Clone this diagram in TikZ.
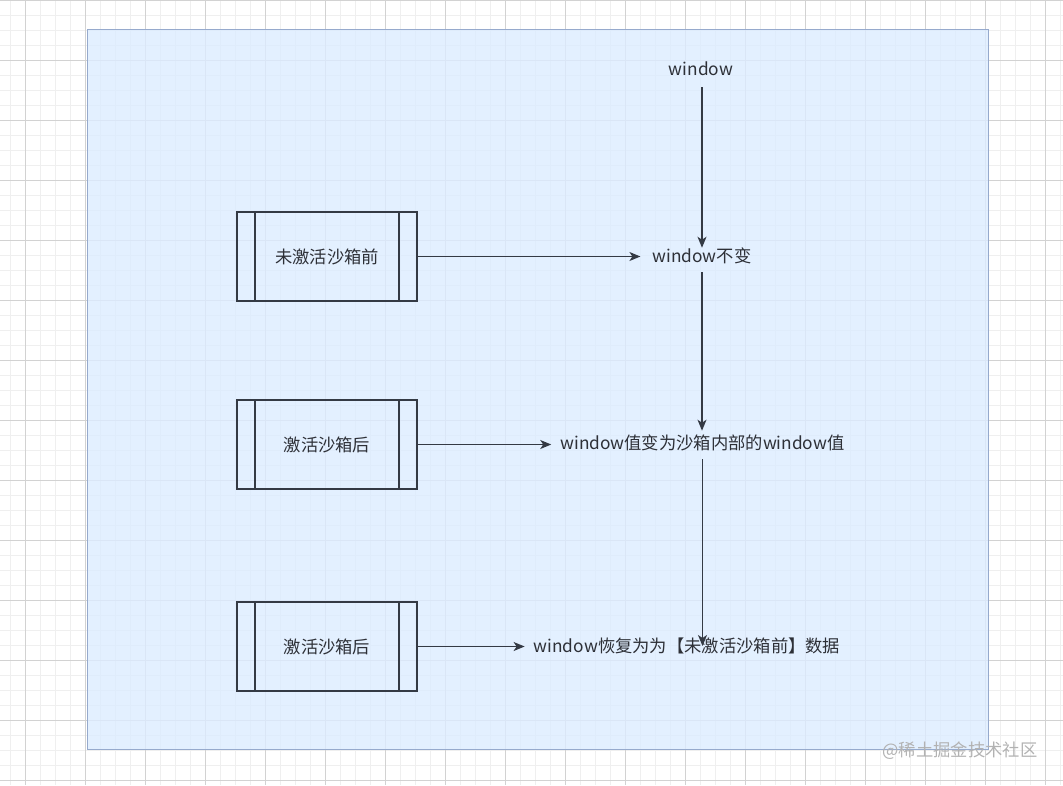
\documentclass[tikz,border=0pt]{standalone}
\usepackage{fontspec}
\setmainfont{Noto Sans CJK SC}
\usepackage{xcolor}
\usetikzlibrary{arrows.meta, positioning}
\definecolor{ink}{RGB}{52,58,68}
\definecolor{txt}{RGB}{45,48,55}
\definecolor{gridmajor}{RGB}{210,210,210}
\definecolor{gridminor}{RGB}{239,239,239}
\definecolor{panelfill}{RGB}{220,236,255}
\definecolor{panelline}{RGB}{150,170,205}
\tikzset{
  sandbox/.style={draw=ink, line width=1.6pt, align=center, minimum width=180pt, minimum height=89pt, text=txt,
    path picture={
      \draw[ink, line width=1.6pt] ([xshift=18pt]path picture bounding box.north west) -- ([xshift=18pt]path picture bounding box.south west);
      \draw[ink, line width=1.6pt] ([xshift=-18pt]path picture bounding box.north east) -- ([xshift=-18pt]path picture bounding box.south east);
    }},
  state/.style={text=txt, inner xsep=9pt, inner ysep=0pt},
  arrow/.style={-{Stealth[length=11pt, width=9pt, inset=3pt]}, line width=1.3pt, ink},
  every node/.style={font=\fontsize{17.3}{20}\selectfont}
}
\begin{document}
\begin{tikzpicture}[x=1pt, y=-1pt]
    \useasboundingbox (0,0) rectangle (1063,785);
    % grid
    \foreach \x in {10,25,...,1060} \draw[gridminor, line width=0.8pt] (\x,0) -- (\x,785);
    \foreach \y in {15,30,...,780} \draw[gridminor, line width=0.8pt] (0,\y) -- (1063,\y);
    \foreach \x in {25,85,...,1045} \draw[gridmajor, line width=0.8pt] (\x,0) -- (\x,785);
    \foreach \y in {0,60,...,780} \draw[gridmajor, line width=0.8pt] (0,\y) -- (1063,\y);
    \fill[panelfill, fill opacity=0.8] (87,29) rectangle (988,749);
    \draw[panelline, line width=0.8pt] (87,29) rectangle (988,749);

    \node[sandbox] (before) at (327,256.5) {未激活沙箱前};
    \node[sandbox, below=97.4pt of before] (active) {激活沙箱后};
    \node[sandbox, below=111.4pt of active] (after) {激活沙箱后};

    \node[state] (win) at (701,69) {window};
    \node[state] (same) at (702,256) {window不变};
    \node[state] (inner) at (702.5,443) {window值变为沙箱内部的window值};
    \node[state] (restore) at (687,646) {window恢复为为【未激活沙箱前】数据};

    \draw[arrow, shorten >=3pt] (before) -- (same.west |- before);
    \draw[arrow] (active) -- (inner.west |- active);
    \draw[arrow] (after) -- (restore.west |- after);
    \draw[arrow, shorten <=11pt] (win.south -| same) -- (same.north);
    \draw[arrow, shorten <=8pt, shorten >=4pt] (same.south) -- (same.south |- inner.north);
    \draw[arrow, shorten <=8pt] (inner.south) -- (inner.south |- restore.center);

    \node[text=black!30] (mark) at (960,751) {@稀土掘金技术社区};
\end{tikzpicture}
\end{document}
